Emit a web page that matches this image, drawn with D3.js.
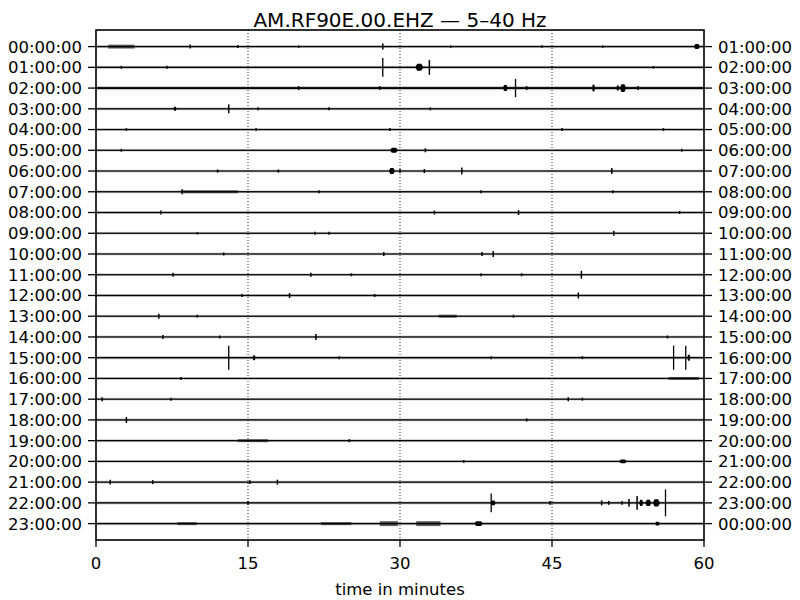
<!DOCTYPE html>
<html><head><meta charset="utf-8">
<script src="https://cdn.jsdelivr.net/npm/d3@7"></script>
<style>body{margin:0;background:#fff}svg{display:block}text{font-family:"DejaVu Sans",sans-serif;fill:#000}</style>
</head><body><div id="chart"></div>
<script>
const title = "AM.RF90E.00.EHZ \u2014 5\u201340 Hz";
const xLabel = "time in minutes";
const xTicks = [0, 15, 30, 45, 60];
const gridMinutes = [15, 30, 45];
const leftLabels = ["00:00:00","01:00:00","02:00:00","03:00:00","04:00:00","05:00:00","06:00:00","07:00:00","08:00:00","09:00:00","10:00:00","11:00:00","12:00:00","13:00:00","14:00:00","15:00:00","16:00:00","17:00:00","18:00:00","19:00:00","20:00:00","21:00:00","22:00:00","23:00:00"];
const rightLabels = ["01:00:00","02:00:00","03:00:00","04:00:00","05:00:00","06:00:00","07:00:00","08:00:00","09:00:00","10:00:00","11:00:00","12:00:00","13:00:00","14:00:00","15:00:00","16:00:00","17:00:00","18:00:00","19:00:00","20:00:00","21:00:00","22:00:00","23:00:00","00:00:00"];
// background noise level per hour (counts)
const noiseLevel = [38,40,55,38,36,36,36,38,38,36,36,36,38,36,36,42,36,36,38,38,36,38,40,40];
// events per hour: [minute, half amplitude (counts), duration (minutes, 0 = spike)]
const events = [
  [[2.5,95,2.6],[9.3,95,0],[14,72,0],[20,60,0],[28.3,145,0],[35,60,0],[44,60,0],[50,60,0],[59.3,120,0.6]],
  [[2.5,72,0],[7,72,0],[28.3,455,0],[31.9,170,0.8],[32.9,360,0],[45,60,0],[55,60,0]],
  [[20,95,0],[28.0,95,0],[40.4,145,0.5],[41.4,435,0],[42.5,95,0],[49.1,170,0.3],[51.5,120,0.3],[52.0,190,0.6],[53.5,95,0]],
  [[7.8,95,0.3],[13.1,215,0],[16,72,0],[23,72,0],[33,72,0]],
  [[3,72,0],[15.8,72,0],[29,72,0],[46,72,0],[56,72,0]],
  [[2.5,72,0],[29.4,120,0.8],[32.5,95,0],[57.8,72,0]],
  [[12,72,0],[18,72,0],[29.2,145,0.6],[30,95,0],[32.4,95,0],[36.1,170,0],[50.9,145,0]],
  [[8.5,120,0],[11.2,72,5.6],[22,72,0],[38,72,0],[51,72,0]],
  [[6.4,95,0],[33.4,95,0],[41.7,120,0],[57.6,72,0]],
  [[10,55,0],[21.6,72,0],[23,72,0],[51.1,120,0]],
  [[12.6,72,0],[28.4,95,0],[38.1,95,0],[39.2,145,0]],
  [[7.6,95,0],[21.2,95,0],[25.2,72,0],[38,72,0],[42,72,0],[47.9,190,0]],
  [[14.4,72,0],[19.1,120,0],[27.5,72,0],[47.6,145,0]],
  [[6.2,120,0],[10,72,0],[34.7,72,1.8],[41.2,72,0]],
  [[6.6,95,0],[12.2,72,0],[21.7,145,0],[56.4,72,0]],
  [[13.1,580,0],[15.6,120,0.3],[24,72,0],[39,72,0],[48,72,0],[57.0,580,0],[58.2,580,0],[58.5,145,0.3]],
  [[8.4,72,0],[58,72,3]],
  [[0.6,95,0],[7.4,72,0],[46.6,95,0],[48,72,0]],
  [[3,145,0],[42.5,72,0]],
  [[15.5,72,3],[25,72,0]],
  [[36.3,72,0],[52,95,0.8]],
  [[1.4,120,0],[5.6,95,0],[15.2,95,0],[17.9,120,0]],
  [[15,95,0],[39.0,455,0],[39.2,120,0.5],[44.8,95,0],[49.9,120,0],[50.6,95,0],[51.9,95,0],[52.6,190,0],[53.4,335,0],[53.8,145,0.4],[54.5,145,0.6],[55.3,178,0.7],[56.2,650,0]],
  [[9,72,1.9],[23.7,72,3],[28.9,120,1.8],[32.8,120,2.4],[37.75,120,0.9],[55.4,95,0.5]]
];

const W = 800, H = 600;
const m = {l:96, r:704, t:30, b:540};
const svg = d3.select("#chart").append("svg").attr("width", W).attr("height", H);
const x = d3.scaleLinear().domain([0, 60]).range([m.l, m.r]);
const y = d3.scaleLinear().domain([-0.8, 23.79]).range([m.t, m.b]);
const rowStep = y(1) - y(0);
const amp = d3.scaleLinear().domain([0, 1000]).range([0, rowStep]);

// grid
svg.append("g").selectAll("line").data(gridMinutes).join("line")
  .attr("x1", d => x(d)).attr("x2", d => x(d)).attr("y1", m.t).attr("y2", m.b)
  .attr("stroke", "#000").attr("stroke-width", 0.8).attr("stroke-dasharray", "1,2");

// traces
const tr = svg.append("g");
leftLabels.forEach((lab, i) => {
  const cy = y(i);
  const g = tr.append("g");
  const n = amp(noiseLevel[i]);
  g.append("rect").attr("x", x(0)).attr("width", x(60) - x(0))
    .attr("y", cy - n * 1.9).attr("height", n * 3.8).attr("fill", "#000").attr("opacity", 0.18);
  g.append("rect").attr("x", x(0)).attr("width", x(60) - x(0))
    .attr("y", cy - n * 0.85).attr("height", n * 1.7).attr("fill", "#000");
  events[i].forEach(([t, a, d]) => {
    const h = amp(a);
    if (d >= 1) {
      g.append("rect").attr("x", x(t - d / 2)).attr("width", x(t + d / 2) - x(t - d / 2))
        .attr("y", cy - h).attr("height", 2 * h).attr("fill", "#000").attr("opacity", 0.6);
    } else if (d > 0) {
      const x0 = x(t - d / 2), x1 = x(t + d / 2), xm = x(t);
      const w = Math.max(3, x1 - x0);
      g.append("path")
        .attr("d", `M${xm - w / 2},${cy} L${xm - w / 4},${cy - h} L${xm + w / 4},${cy - h} L${xm + w / 2},${cy} L${xm + w / 4},${cy + h} L${xm - w / 4},${cy + h} Z`)
        .attr("fill", "#000");
    } else {
      g.append("line").attr("x1", x(t)).attr("x2", x(t)).attr("y1", cy - h).attr("y2", cy + h)
        .attr("stroke", "#000").attr("stroke-width", h > 8 ? 1.3 : 1.5);
    }
  });
});

// frame
svg.append("rect").attr("x", m.l).attr("y", m.t).attr("width", m.r - m.l).attr("height", m.b - m.t)
  .attr("fill", "none").attr("stroke", "#000").attr("stroke-width", 1.6);

// left axis
const ticksL = svg.append("g");
leftLabels.forEach((lab, i) => {
  ticksL.append("line").attr("x1", m.l - 8).attr("x2", m.l).attr("y1", y(i)).attr("y2", y(i)).attr("stroke", "#000").attr("stroke-width", 1.3);
  ticksL.append("text").attr("x", m.l - 14).attr("y", y(i)).attr("dy", "0.36em").attr("text-anchor", "end").attr("font-size", 16.5).text(lab);
});
const ticksR = svg.append("g");
rightLabels.forEach((lab, i) => {
  ticksR.append("line").attr("x1", m.r).attr("x2", m.r + 8).attr("y1", y(i)).attr("y2", y(i)).attr("stroke", "#000").attr("stroke-width", 1.3);
  ticksR.append("text").attr("x", m.r + 14).attr("y", y(i)).attr("dy", "0.36em").attr("text-anchor", "start").attr("font-size", 16.5).text(lab);
});

// bottom axis
const xa = svg.append("g");
xTicks.forEach(t => {
  xa.append("line").attr("x1", x(t)).attr("x2", x(t)).attr("y1", m.b).attr("y2", m.b + 7).attr("stroke", "#000").attr("stroke-width", 1.3);
  xa.append("text").attr("x", x(t)).attr("y", 569).attr("text-anchor", "middle").attr("font-size", 16.5).text(t);
});
svg.append("text").attr("x", (m.l + m.r) / 2).attr("y", 595).attr("text-anchor", "middle").attr("font-size", 16.5).text(xLabel);
svg.append("text").attr("x", (m.l + m.r) / 2).attr("y", 27).attr("text-anchor", "middle").attr("font-size", 20).text(title);
</script></body></html>
